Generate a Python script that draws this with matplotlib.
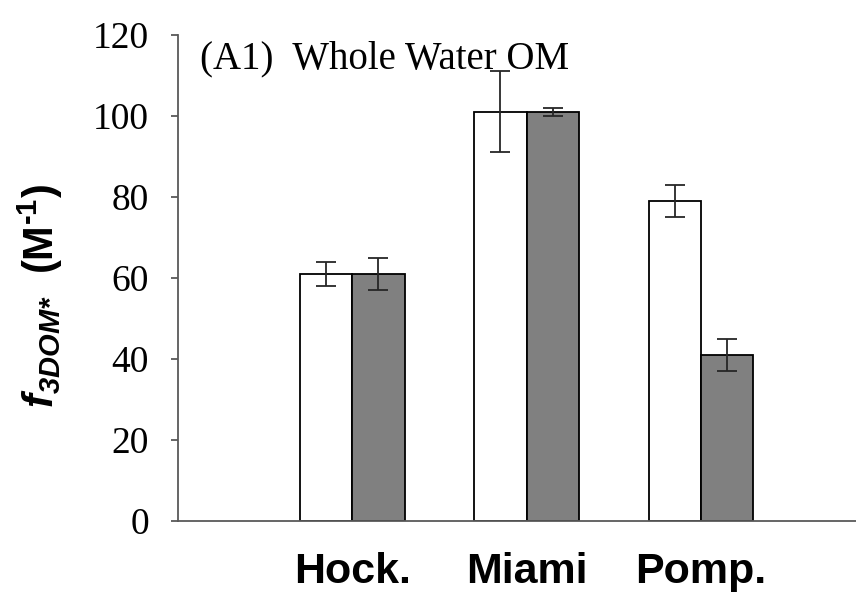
import matplotlib
matplotlib.use('Agg')
import matplotlib.pyplot as plt
import numpy as np

# f3DOM* values (M^-1) for each OM source
sites = ['Hock.', 'Miami', 'Pomp.']
white_vals = [61, 101, 79]
white_err = [3, 10, 4]
gray_vals = [61, 101, 41]
gray_err = [4, 1, 4]

# \text{} pieces come out bold italic, \mathsf{} bold upright
matplotlib.rcParams['mathtext.fontset'] = 'custom'
matplotlib.rcParams['mathtext.rm'] = 'Liberation Sans:italic:bold'
matplotlib.rcParams['mathtext.it'] = 'Liberation Sans:italic:bold'
matplotlib.rcParams['mathtext.sf'] = 'Liberation Sans:bold'
matplotlib.rcParams['mathtext.bf'] = 'Liberation Sans:bold'

fig = plt.figure(figsize=(8.56, 5.95), dpi=100)
ax1 = fig.add_axes([178/856, 1-521/595, 1-178/856, (521-35)/595])

BAR_W = 0.30
x = np.arange(1, len(sites)+1)
ekw = dict(ecolor='#262626', elinewidth=1.3, capsize=7, capthick=1.3)
ax1.bar(x - BAR_W/2, white_vals, BAR_W, yerr=white_err, color='white',
        edgecolor='black', linewidth=1.3, error_kw=ekw, zorder=2)
ax1.bar(x + BAR_W/2, gray_vals, BAR_W, yerr=gray_err, color='#808080',
        edgecolor='black', linewidth=1.3, error_kw=ekw, zorder=2)

ax1.set_xlim(0, 3.89)
ax1.set_ylim(0, 120)
ax1.set_yticks(np.arange(0, 121, 20))
ax1.set_xticks(x)
ax1.set_xticklabels(sites, fontsize=31, fontweight='bold', family='Liberation Sans')
for lab in ax1.get_yticklabels():
    lab.set_family('Liberation Serif')
    lab.set_fontsize(27)

ax1.tick_params(axis='y', direction='out', length=5, width=1.3, color='#595959', pad=16)
ax1.tick_params(axis='x', length=0, pad=22)

ax1.spines['right'].set_visible(False)
ax1.spines['top'].set_visible(False)
ax1.spines['left'].set_color('#595959')
ax1.spines['bottom'].set_color('#595959')
ax1.spines['left'].set_linewidth(1.3)
ax1.spines['bottom'].set_linewidth(1.3)

# y label drawn as figure text so it sits where wanted
fig.text(40/856, 1-296/595, r'$\text{f}_{\text{3DOM*}}$  (M$^{\mathsf{‐1}}$)',
         rotation=90, ha='center', va='center', fontsize=30, fontweight='bold',
         family='Liberation Sans')

ax1.text(0.032, 0.932, '(A1)  Whole Water OM', transform=ax1.transAxes,
         fontsize=28, family='Liberation Serif', va='baseline', ha='left')

fig.savefig('out.png', dpi=100)
